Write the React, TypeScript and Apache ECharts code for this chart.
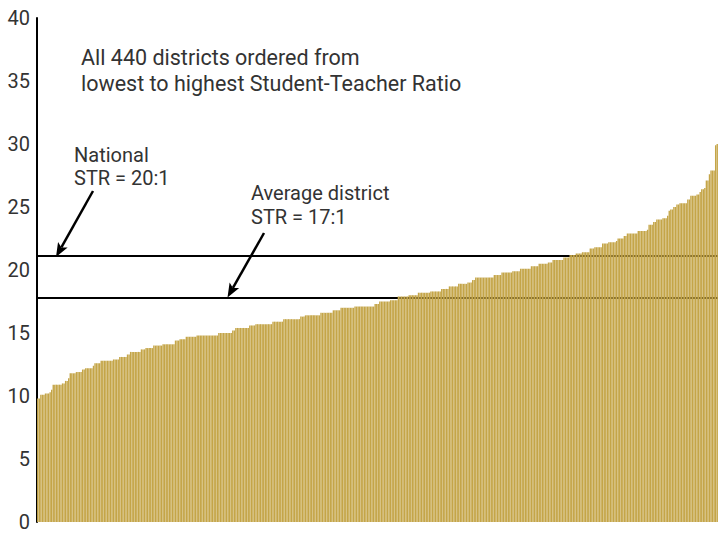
import React, { useEffect, useRef } from "react";
import * as echarts from "echarts";

// Student-Teacher Ratios of the 440 districts, sorted from lowest to highest
const ratiosPart1 = [
  9.8, 9.8, 10.1, 10.1, 10.1, 10.2, 10.2, 10.2, 10.3, 10.5,
  10.9, 10.9, 10.9, 10.9, 10.9, 10.9, 11.0, 11.0, 11.2, 11.2,
  11.4, 11.8, 11.8, 11.8, 11.8, 11.9, 11.9, 11.9, 11.9, 12.1,
  12.1, 12.2, 12.2, 12.2, 12.2, 12.2, 12.4, 12.6, 12.6, 12.6,
  12.6, 12.8, 12.8, 12.8, 12.8, 12.8, 12.8, 12.8, 12.8, 12.9,
  12.9, 12.9, 12.9, 13.1, 13.1, 13.1, 13.1, 13.1, 13.3, 13.3,
  13.5, 13.5, 13.5, 13.5, 13.5, 13.5, 13.5, 13.7, 13.7, 13.7,
  13.8, 13.8, 13.8, 13.8, 13.8, 14.0, 14.0, 14.0, 14.0, 14.0,
  14.0, 14.1, 14.1, 14.1, 14.1, 14.1, 14.1, 14.1, 14.1, 14.4,
  14.4, 14.4, 14.5, 14.5, 14.5, 14.5, 14.7, 14.7, 14.7, 14.7,
  14.7, 14.7, 14.7, 14.8, 14.8, 14.8, 14.8, 14.8, 14.8, 14.8,
];
const ratiosPart2 = [
  14.8, 14.8, 14.8, 14.8, 14.8, 14.8, 14.8, 15.0, 15.0, 15.0,
  15.0, 15.0, 15.0, 15.0, 15.0, 15.0, 15.2, 15.2, 15.4, 15.4,
  15.4, 15.4, 15.4, 15.4, 15.4, 15.4, 15.4, 15.6, 15.6, 15.6,
  15.6, 15.7, 15.7, 15.7, 15.7, 15.7, 15.7, 15.7, 15.7, 15.7,
  15.7, 15.7, 15.9, 15.9, 15.9, 15.9, 15.9, 15.9, 15.9, 16.1,
  16.1, 16.1, 16.1, 16.1, 16.1, 16.1, 16.1, 16.1, 16.1, 16.1,
  16.3, 16.3, 16.3, 16.4, 16.4, 16.4, 16.4, 16.4, 16.4, 16.4,
  16.4, 16.4, 16.4, 16.6, 16.6, 16.6, 16.6, 16.6, 16.6, 16.6,
  16.6, 16.8, 16.8, 16.8, 16.8, 16.8, 17.0, 17.0, 17.0, 17.0,
  17.0, 17.0, 17.0, 17.0, 17.0, 17.1, 17.1, 17.1, 17.1, 17.1,
  17.1, 17.1, 17.1, 17.1, 17.1, 17.1, 17.1, 17.1, 17.3, 17.3,
];
const ratiosPart3 = [
  17.3, 17.5, 17.5, 17.5, 17.5, 17.5, 17.5, 17.5, 17.6, 17.6,
  17.6, 17.6, 17.6, 17.9, 17.9, 17.9, 17.9, 17.9, 17.9, 17.9,
  18.0, 18.0, 18.0, 18.0, 18.0, 18.0, 18.2, 18.2, 18.2, 18.2,
  18.2, 18.2, 18.2, 18.2, 18.3, 18.3, 18.3, 18.3, 18.3, 18.3,
  18.3, 18.5, 18.5, 18.5, 18.5, 18.5, 18.7, 18.7, 18.7, 18.7,
  18.7, 18.7, 18.9, 18.9, 18.9, 18.9, 18.9, 18.9, 19.0, 19.0,
  19.0, 19.2, 19.2, 19.4, 19.4, 19.4, 19.4, 19.4, 19.4, 19.4,
  19.4, 19.4, 19.4, 19.4, 19.4, 19.6, 19.6, 19.6, 19.6, 19.6,
  19.8, 19.8, 19.8, 19.8, 19.8, 19.8, 19.8, 19.9, 19.9, 19.9,
  19.9, 19.9, 20.1, 20.1, 20.1, 20.1, 20.1, 20.1, 20.1, 20.3,
  20.3, 20.3, 20.3, 20.3, 20.5, 20.5, 20.5, 20.5, 20.5, 20.5,
];
const ratiosPart4 = [
  20.6, 20.6, 20.6, 20.8, 20.8, 20.8, 20.8, 20.8, 20.8, 20.8,
  21.0, 21.0, 21.0, 21.0, 21.2, 21.2, 21.2, 21.2, 21.3, 21.3,
  21.3, 21.3, 21.4, 21.4, 21.4, 21.4, 21.4, 21.7, 21.7, 21.7,
  21.8, 21.8, 21.8, 21.8, 21.8, 22.1, 22.1, 22.1, 22.1, 22.2,
  22.2, 22.2, 22.2, 22.2, 22.3, 22.5, 22.5, 22.5, 22.5, 22.7,
  22.7, 22.9, 22.9, 22.9, 22.9, 22.9, 22.9, 22.9, 23.1, 23.1,
  23.1, 23.1, 23.1, 23.1, 23.2, 23.6, 23.6, 23.6, 23.8, 23.8,
  24.0, 24.0, 24.0, 24.0, 24.1, 24.1, 24.1, 24.3, 24.7, 24.8,
  24.8, 25.0, 25.0, 25.2, 25.2, 25.3, 25.3, 25.3, 25.3, 25.3,
  25.6, 25.6, 25.9, 25.9, 25.9, 25.9, 26.0, 26.0, 26.2, 26.4,
  26.4, 26.5, 27.1, 27.1, 27.6, 27.9, 27.9, 27.9, 29.9, 30.0,
];

const ratios = [...ratiosPart1, ...ratiosPart2, ...ratiosPart3, ...ratiosPart4];
const districtRanks = ratios.map((_, i) => String(i + 1));

const yTicks = [0, 5, 10, 15, 20, 25, 30, 35, 40];
const nationalLine = 21.1;
const averageLine = 17.8;

const titleLines = ["All 440 districts ordered from", "lowest to highest Student-Teacher Ratio"];
const nationalLabel = ["National", "STR = 20:1"];
const averageLabel = ["Average district", "STR = 17:1"];

const FONT = "Roboto, 'DejaVu Sans', sans-serif";
const TEXT_COLOR = "#333333";
const BAR_COLOR = "#C4A548";

function arrow(x1: number, y1: number, x2: number, y2: number) {
  const dx = x2 - x1;
  const dy = y2 - y1;
  const len = Math.sqrt(dx * dx + dy * dy);
  const ux = dx / len;
  const uy = dy / len;
  const headLen = 14;
  const headHalf = 5.5;
  const bx = x2 - ux * headLen;
  const by = y2 - uy * headLen;
  const nx = -uy;
  const ny = ux;
  return [
    {
      type: "line",
      shape: { x1, y1, x2: bx + ux * 3, y2: by + uy * 3 },
      style: { stroke: "#000", lineWidth: 2.5 },
      silent: true,
    },
    {
      type: "polygon",
      shape: {
        points: [
          [x2, y2],
          [bx + nx * headHalf, by + ny * headHalf],
          [bx + ux * 3, by + uy * 3],
          [bx - nx * headHalf, by - ny * headHalf],
        ],
      },
      style: { fill: "#000" },
      silent: true,
    },
  ];
}

function textBlock(lines: string[], x: number, yMid: number, lineHeight: number, fontSize: number) {
  return {
    type: "text",
    x,
    y: yMid,
    silent: true,
    style: {
      text: lines.join("\n"),
      fill: TEXT_COLOR,
      fontSize,
      fontFamily: FONT,
      lineHeight,
      verticalAlign: "middle",
      align: "left",
    },
  };
}

export default function App() {
  const ref = useRef<HTMLDivElement>(null);

  useEffect(() => {
    if (!ref.current) return;
    const chart = echarts.init(ref.current, null, { renderer: "svg" });
    chart.setOption({
      animation: false,
      backgroundColor: "#ffffff",
      grid: { left: 37, right: 0, top: 18, bottom: 12, containLabel: false },
      xAxis: {
        type: "category",
        data: districtRanks,
        show: false,
        boundaryGap: true,
      },
      yAxis: {
        type: "value",
        min: yTicks[0],
        max: yTicks[yTicks.length - 1],
        interval: 5,
        axisLine: { show: true, lineStyle: { color: "#000", width: 2 } },
        axisTick: { show: false },
        splitLine: { show: false },
        axisLabel: {
          color: TEXT_COLOR,
          fontSize: 20,
          fontFamily: FONT,
          margin: 7,
        },
      },
      series: [
        {
          type: "line",
          data: [],
          z: 1,
          silent: true,
          markLine: {
            z: 1,
            silent: true,
            symbol: "none",
            label: { show: false },
            lineStyle: { color: "#000", width: 2.2, type: "solid" },
            data: [{ yAxis: nationalLine }, { yAxis: averageLine }],
          },
        },
        {
          type: "bar",
          data: ratios,
          z: 5,
          barCategoryGap: "10%",
          itemStyle: { color: BAR_COLOR },
          silent: true,
        },
      ],
      graphic: [
        textBlock(titleLines, 81, 70.5, 25.6, 21.5),
        textBlock(nationalLabel, 74, 166.5, 23.6, 20),
        textBlock(averageLabel, 251, 204.8, 23.6, 20),
        ...arrow(93, 191, 56, 257),
        ...arrow(264, 233, 227.5, 297.5),
      ],
    });
    return () => chart.dispose();
  }, []);

  return (
    <div
      ref={ref}
      style={{ position: "fixed", left: 0, top: 0, width: 718, height: 534 }}
    />
  );
}
